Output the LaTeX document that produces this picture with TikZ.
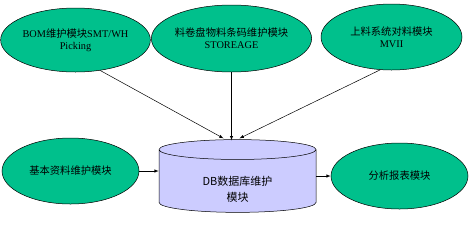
\documentclass[tikz,border=0pt]{standalone}
\usepackage{xcolor}
\usepackage{fontspec}
\setmainfont{Liberation Serif}
\newfontfamily\zhfont{Noto Sans CJK SC}
\newcommand{\zh}[1]{{\zhfont #1}}
\usepackage{tikz}
\usetikzlibrary{shapes.geometric, arrows, positioning}

\begin{document}
\begin{tikzpicture}[x=1pt, y=-1pt, font=\fontsize{10.3}{11.8}\selectfont]
  % Define colors
  \definecolor{modgreen}{HTML}{00C08C}
  \definecolor{dblilac}{HTML}{CCCCFF}
  \tikzset{
    modell/.style={ellipse, draw=black, fill=modgreen, line width=0.5pt, inner sep=0pt,
      minimum width=137pt, minimum height=66pt, align=center},
    dbcyl/.style={cylinder, shape border rotate=90, aspect=0.26, draw=black, fill=dblilac,
      line width=0.5pt, minimum width=157pt, minimum height=70pt, align=center,
      font=\zhfont\fontsize{11}{16}\selectfont},
    feedline/.style={-latex, line width=0.5pt}
  }
  \useasboundingbox (0,0) rectangle (476,242);

  % Row 1
  \node[modell, minimum width=135pt, minimum height=64pt] (bom) at (75.5,40) {BOM\zh{维护模块}SMT/WH\\Picking};
  \node[modell, minimum height=67pt] (reel) at (231.5,38.5) {\zh{料卷盘物料条码维护模块}\\STOREAGE};
  \node[modell, minimum width=141pt] (feed) at (391.5,37) {\zh{上料系统对料模块}\\MVII};

  % Row 2
  \node[modell] (basic) at (70.5,171) {\zh{基本资料维护模块}};
  \node[dbcyl] (db) at (237.5,182.5) {\rule{0pt}{22pt}DB数据库维护\\模块};
  \node[modell] (report) at (399.5,176) {\zh{分析报表模块}};

  % Connectors
  \draw[feedline] (bom.-51) -- ([xshift=-14pt, yshift=1pt]db.north);
  \draw[feedline] (reel.south) -- ([xshift=-6pt, yshift=-1pt]db.north);
  \draw[feedline] (feed.-109) -- ([xshift=2pt, yshift=1pt]db.north);
  \draw[feedline] (basic.east) -- (basic.east -| db.west);
  \draw[feedline] (db.east |- report.west) -- (report.west);
\end{tikzpicture}
\end{document}
